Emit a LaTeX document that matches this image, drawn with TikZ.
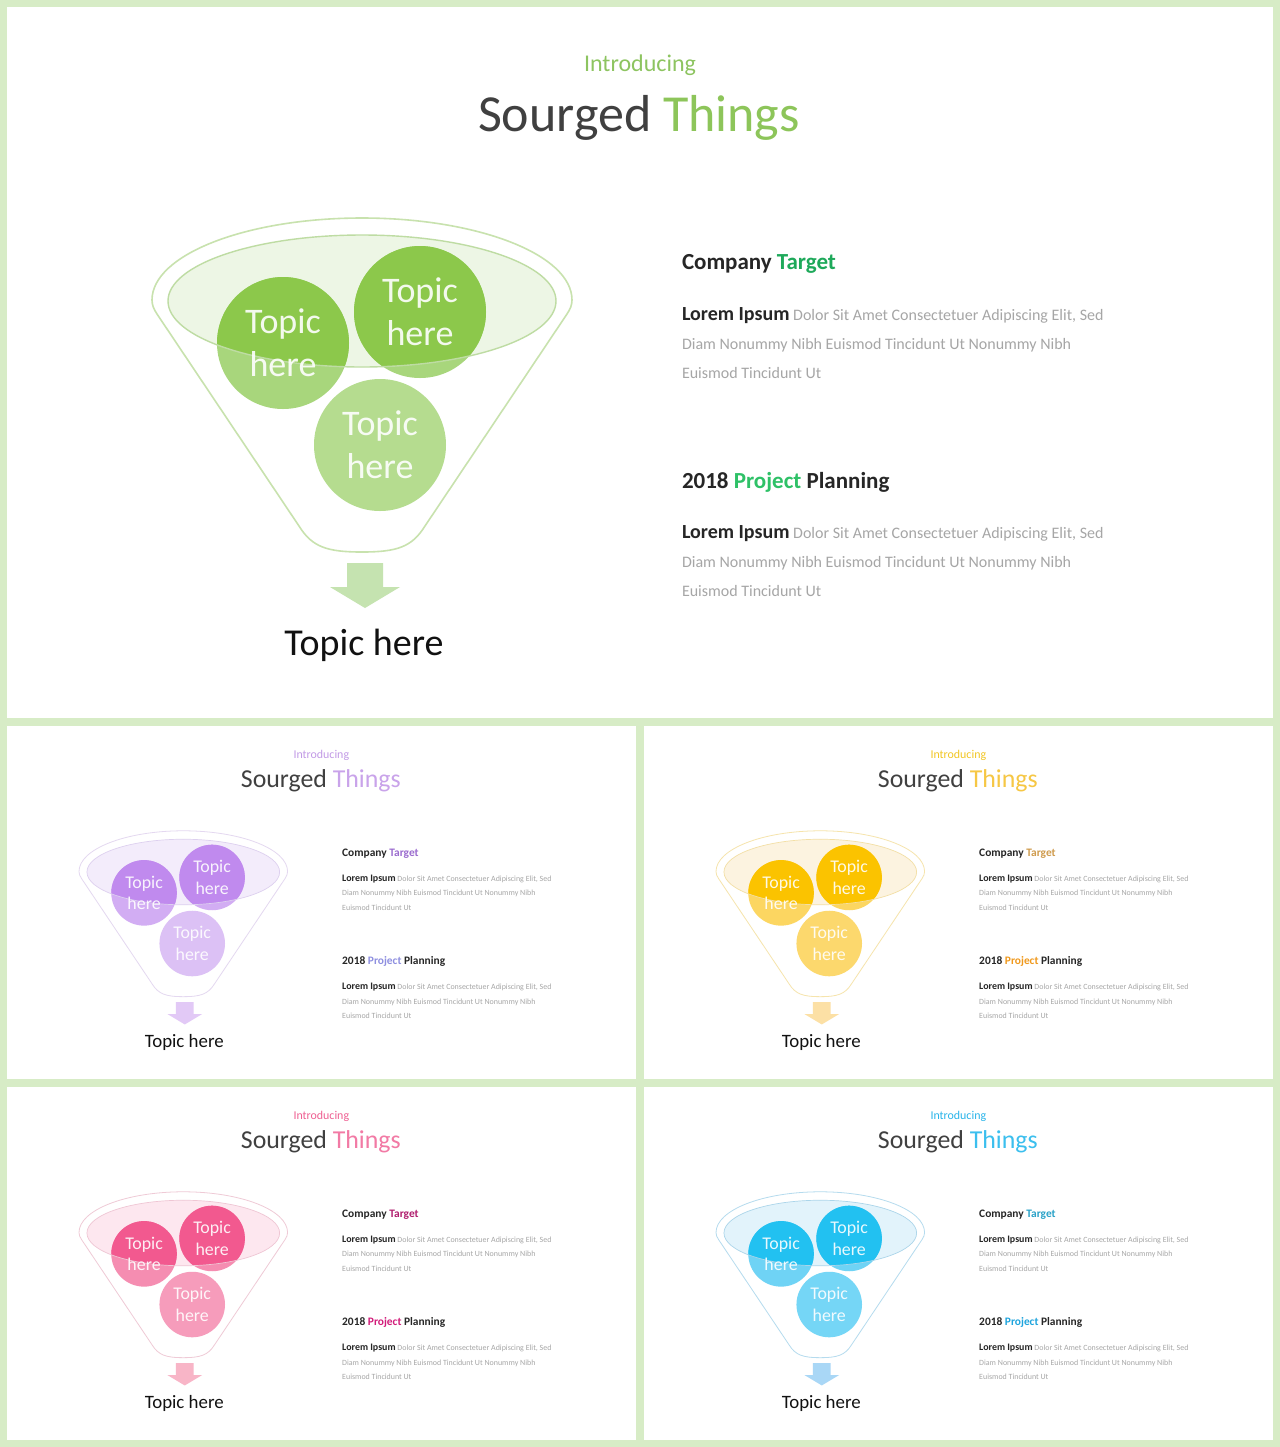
\documentclass[tikz,border=0pt]{standalone}
\usepackage{fontspec}
\setmainfont{Carlito}
% common colours
\definecolor{frame}{HTML}{D7ECC6}
\definecolor{headc}{HTML}{262626}
\definecolor{titlec}{HTML}{404040}
\definecolor{bodyc}{HTML}{A6A6A6}
\definecolor{labelc}{HTML}{111111}
% green palette
\definecolor{gIntro}{HTML}{8DC460}\definecolor{gThings}{HTML}{8DC55A}
\definecolor{gDark}{HTML}{8CC84B}\definecolor{gLight}{HTML}{A8D67C}
\definecolor{gBottom}{HTML}{B5DC8F}\definecolor{gOutline}{HTML}{C8E2AE}
\definecolor{gInner}{HTML}{EDF6E5}\definecolor{gInnerLine}{HTML}{BEDCA3}
\definecolor{gArrow}{HTML}{C5E3B0}\definecolor{gTarget}{HTML}{1EA95A}
\definecolor{gProject}{HTML}{2EC167}
% purple palette
\definecolor{vIntro}{HTML}{C29AE6}\definecolor{vThings}{HTML}{C9A3EA}
\definecolor{vDark}{HTML}{C08AEE}\definecolor{vLight}{HTML}{D2ADF3}
\definecolor{vBottom}{HTML}{DCC1F5}\definecolor{vOutline}{HTML}{E4D8F0}
\definecolor{vInner}{HTML}{F3ECFB}\definecolor{vInnerLine}{HTML}{DDD0EF}
\definecolor{vArrow}{HTML}{E2C9F6}\definecolor{vTarget}{HTML}{9B6CCF}
\definecolor{vProject}{HTML}{8E8FE0}
% yellow palette
\definecolor{yIntro}{HTML}{F2C623}\definecolor{yThings}{HTML}{F6C744}
\definecolor{yDark}{HTML}{FBC300}\definecolor{yLight}{HTML}{FCD661}
\definecolor{yBottom}{HTML}{FCD86D}\definecolor{yOutline}{HTML}{F6E4AC}
\definecolor{yInner}{HTML}{FCF3E0}\definecolor{yInnerLine}{HTML}{F3DFA5}
\definecolor{yArrow}{HTML}{FCE0A5}\definecolor{yTarget}{HTML}{CF9B4D}
\definecolor{yProject}{HTML}{F0991D}
% pink palette
\definecolor{pIntro}{HTML}{EF5F92}\definecolor{pThings}{HTML}{F27AA5}
\definecolor{pDark}{HTML}{F2598F}\definecolor{pLight}{HTML}{F58DB1}
\definecolor{pBottom}{HTML}{F69CBB}\definecolor{pOutline}{HTML}{EFCAD6}
\definecolor{pInner}{HTML}{FDE7EF}\definecolor{pInnerLine}{HTML}{EFC6D4}
\definecolor{pArrow}{HTML}{F8B5C7}\definecolor{pTarget}{HTML}{B01E6E}
\definecolor{pProject}{HTML}{D21B7A}
% blue palette
\definecolor{bIntro}{HTML}{28B4EA}\definecolor{bThings}{HTML}{3BBFEE}
\definecolor{bDark}{HTML}{22C1F1}\definecolor{bLight}{HTML}{6FD3F5}
\definecolor{bBottom}{HTML}{75D6F6}\definecolor{bOutline}{HTML}{B5DBEE}
\definecolor{bInner}{HTML}{E2F3FB}\definecolor{bInnerLine}{HTML}{ABD5EA}
\definecolor{bArrow}{HTML}{A9D7F6}\definecolor{bTarget}{HTML}{2AA2C8}
\definecolor{bProject}{HTML}{1EA4DD}

\tikzset{
  txt/.style={inner sep=0pt, outer sep=0pt},
  circtxt/.style={txt, align=center, text=white, text opacity=0.9,
    font=\fontsize{18}{21.5}\selectfont},
  bodytxt/.style={txt, anchor=base west, text=bodyc, font=\fontsize{8}{10}\selectfont},
  headtxt/.style={txt, anchor=base west, text=headc, font=\fontsize{11.5}{14}\selectfont\bfseries},
}
\newcommand\lorembold{{\fontsize{10}{12}\selectfont\bfseries\color{headc}Lorem Ipsum}}

% #1 prefix, #2 x, #3 y, #4 scale, #5 palette letter
\newcommand\funnelslide[5]{%
\begin{scope}[shift={(#2,#3)}, scale=#4, transform shape]
  \fill[white] (0,0) rectangle (1266,711);
  \node[txt, anchor=base, text=#5Intro, font=\fontsize{12}{14}\selectfont] (#1-intro) at (633,64.5) {Introducing};
  \node[txt, anchor=base, text=titlec, font=\fontsize{26}{30}\selectfont] (#1-title) at (632,124) {Sourged \textcolor{#5Things}{Things}};
  % funnel outline
  \draw[#5Outline, line width={0.8pt*#4}] (150,307) .. controls (146.7,302) and (145,298) .. (145,293)
     .. controls (145,247.7) and (239,211) .. (355,211)
     .. controls (471,211) and (565,247.7) .. (565,293)
     .. controls (565,298) and (563.3,302) .. (560,307) -- (418,519)
     .. controls (405,540) and (390,545) .. (355,545)
     .. controls (320,545) and (305,540) .. (292,519) -- cycle;
  \fill[#5Inner] (355,294) ellipse [x radius=194, y radius=66];
  \fill[#5Light] (276,336) circle [radius=66];
  \fill[#5Light] (413,305) circle [radius=66];
  \fill[#5Bottom] (373,438) circle [radius=66];
  \begin{scope}
    \clip (355,294) ellipse [x radius=194, y radius=66];
    \fill[#5Dark] (276,336) circle [radius=66];
    \fill[#5Dark] (413,305) circle [radius=66];
  \end{scope}
  \draw[#5InnerLine, line width={0.7pt*#4}] (355,294) ellipse [x radius=194, y radius=66];
  \node[circtxt] (#1-c1) at (276,336) {Topic\\here};
  \node[circtxt] (#1-c2) at (413,305) {Topic\\here};
  \node[circtxt] (#1-c3) at (373,438) {Topic\\here};
  % arrow
  \fill[#5Arrow] (340,556) -- (376,556) -- (376,580) -- (393,580) -- (358,601)
     -- (323,580) -- (340,580) -- cycle;
  \node[txt, anchor=base, text=labelc, font=\fontsize{19}{22}\selectfont] (#1-label) at (357,648) {Topic here};
  % right text
  \node[headtxt] (#1-h1) at (675,262) {Company \textcolor{#5Target}{Target}};
  \node[bodytxt] (#1-a1) at (675,313) {\lorembold\ Dolor Sit Amet Consectetuer Adipiscing Elit, Sed};
  \node[bodytxt] (#1-a2) at (675,342) {Diam Nonummy Nibh Euismod Tincidunt Ut Nonummy Nibh};
  \node[bodytxt] (#1-a3) at (675,371) {Euismod Tincidunt Ut};
  \node[headtxt] (#1-h2) at (675,481) {2018 \textcolor{#5Project}{Project} Planning};
  \node[bodytxt] (#1-b1) at (675,531) {\lorembold\ Dolor Sit Amet Consectetuer Adipiscing Elit, Sed};
  \node[bodytxt] (#1-b2) at (675,560) {Diam Nonummy Nibh Euismod Tincidunt Ut Nonummy Nibh};
  \node[bodytxt] (#1-b3) at (675,589) {Euismod Tincidunt Ut};
\end{scope}}

\begin{document}
\begin{tikzpicture}[x=0.5pt, y=-0.5pt]
  \fill[frame] (0,0) rectangle (1280,1447);
  \useasboundingbox (0,0) rectangle (1280,1447);
  \funnelslide{main}{7}{7}{1}{g}
  \funnelslide{purple}{7}{726}{0.4966}{v}
  \funnelslide{yellow}{644}{726}{0.4966}{y}
  \funnelslide{pink}{7}{1087}{0.4966}{p}
  \funnelslide{blue}{644}{1087}{0.4966}{b}
\end{tikzpicture}
\end{document}
